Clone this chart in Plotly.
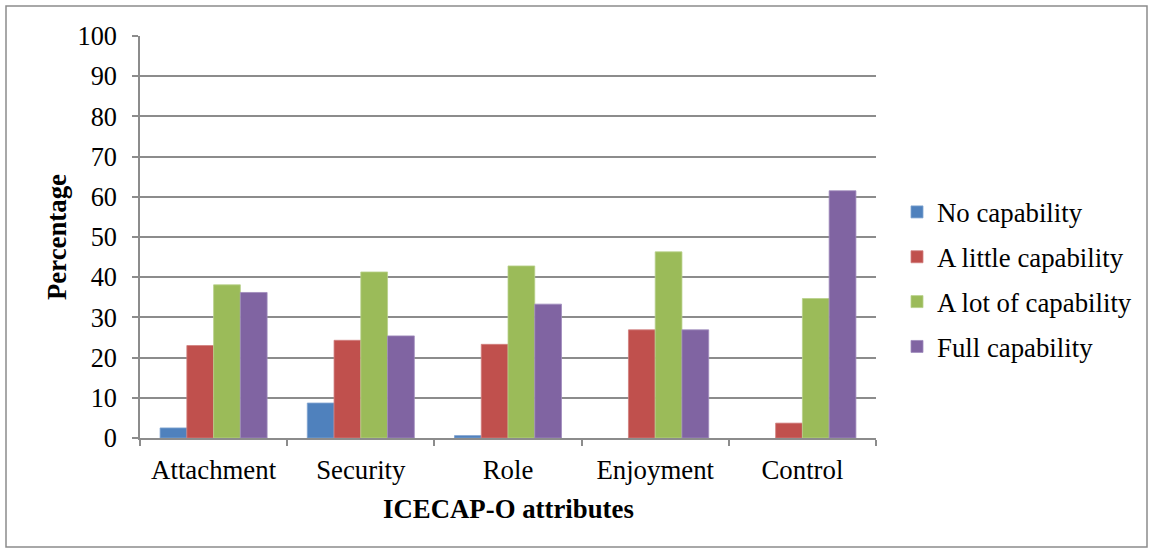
import plotly.graph_objects as go

# Survey results by ICECAP-O attribute (percentage of respondents)
attributes = ["Attachment", "Security", "Role", "Enjoyment", "Control"]
no_capability = [2.5, 8.7, 0.6, 0.0, 0.0]
little_capability = [23.0, 24.3, 23.3, 26.9, 3.7]
lot_capability = [38.1, 41.3, 42.8, 46.3, 34.7]
full_capability = [36.2, 25.4, 33.3, 26.9, 61.5]

series_names = ["No capability", "A little capability", "A lot of capability", "Full capability"]
series_values = [no_capability, little_capability, lot_capability, full_capability]
series_colors = ["#4F81BD", "#C0504D", "#9BBB59", "#8064A2"]
edge_colors = ["#7fa3d1", "#d07f7d", "#b7d08a", "#a08bbd"]

FONT = "Liberation Serif"
GRID = "#8c8c8c"
FS = 26.8

fig = go.Figure()
for i, (name, vals, col, edge) in enumerate(zip(series_names, series_values, series_colors, edge_colors)):
    fig.add_trace(go.Bar(
        x=attributes, y=vals, name=name,
        marker=dict(color=col, line=dict(color=edge, width=[0.8 if v > 0 else 0 for v in vals])),
        legendgroup=f"g{i}",
    ))

W, H = 1153, 552
L, R, T, B = 140, 277, 36, 114
pw, ph = W - L - R, H - T - B

def px_x(x):
    return (x - L) / pw

def px_y(y):
    return (H - B - y) / ph

fig.update_layout(
    width=W, height=H,
    margin=dict(l=L, r=R, t=T, b=B),
    paper_bgcolor="white", plot_bgcolor="white",
    barmode="group", bargap=0.273, bargroupgap=0,
    font=dict(family=FONT, size=FS, color="black"),
    showlegend=True,
    legend=dict(
        x=px_x(897), y=px_y(188), xanchor="left", yanchor="top",
        font=dict(family=FONT, size=FS, color="black"),
        tracegroupgap=7, itemwidth=30,
        bgcolor="rgba(0,0,0,0)",
    ),
    xaxis=dict(
        showline=True, linecolor=GRID, linewidth=1.5,
        ticks="outside", ticklen=6, tickcolor=GRID, tickwidth=1.5,
        tickson="boundaries", showgrid=False,
        tickfont=dict(family=FONT, size=FS, color="black"),
        ticklabelstandoff=7,
    ),
    yaxis=dict(
        range=[0, 100], dtick=10, tick0=0,
        showline=True, linecolor=GRID, linewidth=1.5,
        ticks="outside", ticklen=6, tickcolor=GRID, tickwidth=1.5,
        showgrid=True, gridcolor=GRID, gridwidth=1.5,
        zeroline=False,
        tickfont=dict(family=FONT, size=26.3, color="black"),
        ticklabelstandoff=10,
    ),
    shapes=[dict(
        type="rect", xref="paper", yref="paper",
        x0=px_x(6), x1=px_x(1147), y0=px_y(547), y1=px_y(6),
        line=dict(color="#8c8c8c", width=1.5), fillcolor="rgba(0,0,0,0)",
        layer="below",
    )],
    annotations=[
        dict(text="<b>ICECAP-O attributes</b>", xref="paper", yref="paper",
             x=px_x(508), y=px_y(509), xanchor="center", yanchor="middle",
             showarrow=False, font=dict(family=FONT, size=FS, color="black")),
        dict(text="<b>Percentage</b>", xref="paper", yref="paper",
             x=px_x(57), y=px_y(237), xanchor="center", yanchor="middle",
             textangle=-90, showarrow=False,
             font=dict(family=FONT, size=FS, color="black")),
    ],
)

fig.write_html("out.html")
